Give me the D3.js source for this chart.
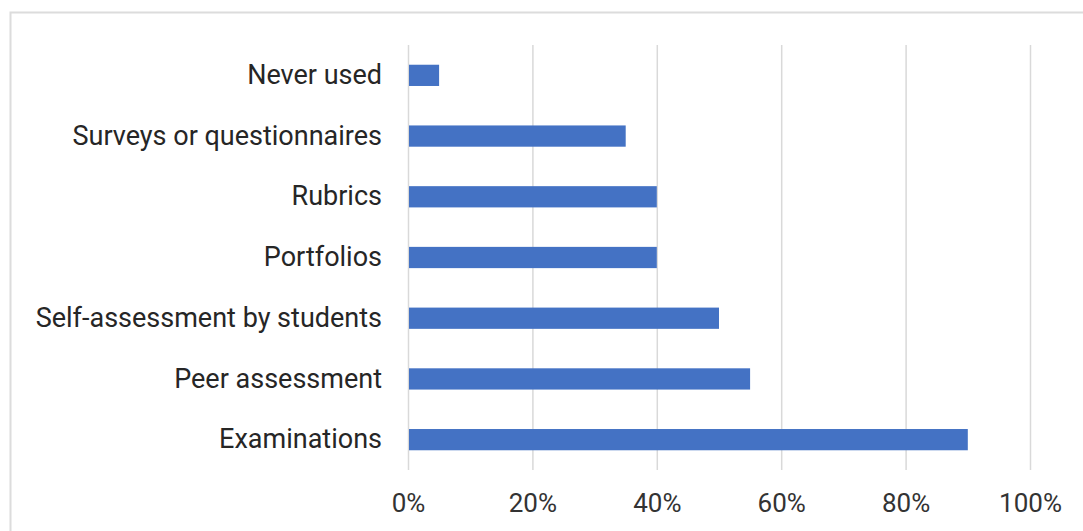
<!DOCTYPE html>
<html>
<head>
<meta charset="utf-8">
<script src="https://cdn.jsdelivr.net/npm/d3@7"></script>
<style>
  html, body { margin: 0; padding: 0; background: #fff; }
  svg { display: block; }
</style>
</head>
<body>
<svg id="chart" width="1083" height="531"></svg>
<script>
// Assessment methods and share of respondents using each (fraction of 1)
const categories = [
  "Never used",
  "Surveys or questionnaires",
  "Rubrics",
  "Portfolios",
  "Self-assessment by students",
  "Peer assessment",
  "Examinations"
];
const shares = [0.05, 0.35, 0.40, 0.40, 0.50, 0.55, 0.90];
const tickValues = [0, 0.2, 0.4, 0.6, 0.8, 1.0];

const svg = d3.select("#chart");
const plot = { left: 408, right: 1030, top: 45, bottom: 470 };

// Outer chart frame
svg.append("rect")
  .attr("x", 10.5).attr("y", 12.5)
  .attr("width", 1100).attr("height", 600)
  .attr("fill", "#fff")
  .attr("stroke", "#dcdcdc")
  .attr("stroke-width", 2);

const x = d3.scaleLinear().domain([0, 1]).range([plot.left, plot.right]);
const y = d3.scaleBand().domain(categories)
  .range([plot.top, plot.bottom])
  .paddingInner(0.65).paddingOuter(0.325);

// Vertical gridlines
svg.append("g")
  .selectAll("line")
  .data(tickValues)
  .join("line")
  .attr("x1", d => x(d) + 0.5).attr("x2", d => x(d) + 0.5)
  .attr("y1", plot.top).attr("y2", plot.bottom)
  .attr("stroke", "#d9d9d9")
  .attr("stroke-width", 1.5);

// Bars
svg.append("g")
  .selectAll("rect")
  .data(categories)
  .join("rect")
  .attr("x", x(0) + 1)
  .attr("y", d => y(d))
  .attr("width", (d, i) => x(shares[i]) - x(0) - 1)
  .attr("height", y.bandwidth())
  .attr("fill", "#4472c4");

// Category axis
const yAxis = svg.append("g")
  .attr("transform", `translate(${plot.left - 26},0)`)
  .call(d3.axisLeft(y).tickSize(0).tickPadding(0));
yAxis.select(".domain").remove();
yAxis.selectAll("text")
  .attr("font-family", "Roboto, sans-serif")
  .attr("font-size", 27)
  .attr("fill", "#262626");

// Value axis
const xAxis = svg.append("g")
  .attr("transform", `translate(0,${plot.bottom})`)
  .call(d3.axisBottom(x).tickValues(tickValues).tickFormat(d3.format(".0%")).tickSize(0).tickPadding(24));
xAxis.select(".domain").remove();
xAxis.selectAll("text")
  .attr("font-family", "Roboto, sans-serif")
  .attr("font-size", 26)
  .attr("fill", "#333");
</script>
</body>
</html>
